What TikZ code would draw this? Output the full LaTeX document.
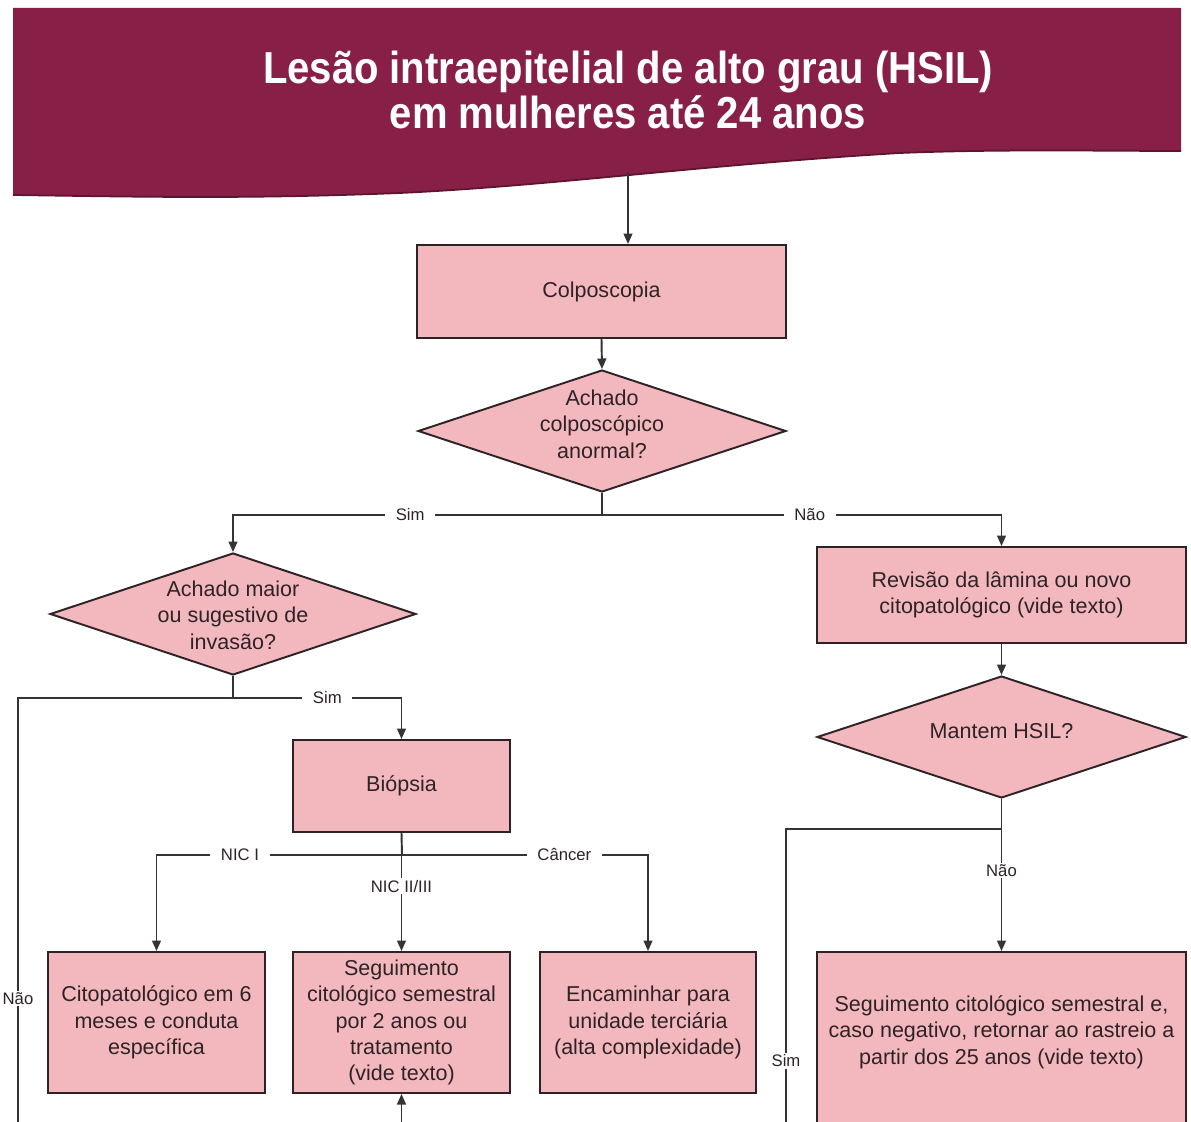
\documentclass[tikz,border=0pt]{standalone}
\usepackage{graphicx}
\usepackage{fontspec}
\setmainfont{Liberation Sans}
\usetikzlibrary{shapes.geometric,arrows.meta}
\definecolor{wine}{RGB}{136,31,70}
\definecolor{wineedge}{RGB}{95,20,45}
\definecolor{rose}{RGB}{243,184,190}
\definecolor{ink}{RGB}{45,35,38}
\definecolor{wirecol}{RGB}{55,50,52}

\begin{document}
\begin{tikzpicture}[x=0.02cm,y=-0.02cm,
  box/.style={draw=ink, line width=1.1pt, fill=rose, inner sep=0pt, align=center,
              text=ink, font=\fontsize{12.25}{15}\selectfont},
  dia/.style={box, diamond},
  txt/.style={align=center, text=ink, inner sep=0pt, font=\fontsize{12.25}{15}\selectfont},
  wire/.style={draw=wirecol, line width=1.1pt},
  arr/.style={wire, -{Triangle[length=6pt,width=5pt]}},
  lbl/.style={fill=white, inner xsep=6pt, inner ysep=1pt, text=ink,
              font=\fontsize{9.5}{11}\selectfont},
]
\useasboundingbox (0,0) rectangle (1191,1122);
\fill[white] (0,0) rectangle (1191,1122);

% title banner with wavy lower edge
\fill[wine] (13,8) -- (1181,8) -- (1181,151)
  .. controls (1100,151) and (1000,149) .. (900,153)
  .. controls (700,165) and (550,186) .. (400,193)
  .. controls (250,199) and (150,197) .. (13,195) -- cycle;
\draw[wineedge, line width=1pt] (1181,151)
  .. controls (1100,151) and (1000,149) .. (900,153)
  .. controls (700,165) and (550,186) .. (400,193)
  .. controls (250,199) and (150,197) .. (13,195);
\node[text=white, align=center, inner sep=0pt,
      font=\fontsize{25.5}{23.5}\selectfont\bfseries] (title) at (628,90)
  {\scalebox{0.894}[1]{Lesão intraepitelial de alto grau (HSIL)}\\
   \scalebox{0.894}[1]{em mulheres até 24 anos}};
\coordinate (hb) at (628,172);

% boxes
\node[box, minimum width=7.38cm, minimum height=1.86cm] (colp) at (601.5,291.5) {Colposcopia};
\node[dia, minimum width=7.36cm, minimum height=2.44cm] (d1) at (602,431) {};
\node[txt] (d1t) at (602,424) {Achado\\colposcópico\\anormal?};

\node[dia, minimum width=7.32cm, minimum height=2.44cm] (d2) at (233,614) {};
\node[txt] (d2t) at (233,615) {Achado maior\\ou sugestivo de\\invasão?};

\node[box, minimum width=7.38cm, minimum height=1.92cm] (rev) at (1001.5,595)
  {Revisão da lâmina ou novo\\citopatológico (vide texto)};
\node[dia, minimum width=7.38cm, minimum height=2.44cm] (d3) at (1001.5,737) {};
\node[txt] (d3t) at (1001.5,731) {Mantem HSIL?};

\node[box, minimum width=4.34cm, minimum height=1.84cm] (bio) at (401.5,786) {Biópsia};

\node[box, minimum width=4.34cm, minimum height=2.82cm] (ca) at (156.5,1022.5)
  {Citopatológico em 6\\meses e conduta\\específica};
\node[box, minimum width=4.34cm, minimum height=2.82cm] (cb) at (401.5,1022.5)
  {Seguimento\\citológico semestral\\por 2 anos ou\\tratamento\\(vide texto)};
\node[box, minimum width=4.32cm, minimum height=2.82cm] (cc) at (648,1022.5)
  {Encaminhar para\\unidade terciária\\(alta complexidade)};
\node[box, minimum width=7.38cm, minimum height=3.92cm] (cd) at (1001.5,1050) {};
\node[txt] (cdt) at (1001.5,1032)
  {Seguimento citológico semestral e,\\caso negativo, retornar ao rastreio a\\partir dos 25 anos (vide texto)};

% junctions and free ends
\coordinate (j1) at (602,515);
\coordinate (j2) at (233,698);
\coordinate (j3) at (402,855);
\coordinate (j4) at (1001.5,829);
\coordinate (endl) at (18,1135);
\coordinate (endr) at (786,1135);
\coordinate (endb) at (401.5,1135);

% connectors
\draw[arr] (hb) -- (hb |- colp.north);
\draw[arr] (colp.south) -- (d1.north);
\draw[wire] (d1.south) -- (j1);
\draw[arr] (j1) -| node[lbl, pos=0.26] {Sim} (d2.north);
\draw[arr] (j1) -| node[lbl, pos=0.26] {Não} (rev.north);

\draw[wire] (d2.south) -- (j2);
\draw[arr] (j2) -| node[lbl, pos=0.28] {Sim} (bio.north);
\draw[wire] (j2) -| node[lbl, pos=0.844] {Não} (endl);

\draw[wire] (bio.south) -- (j3);
\draw[arr] (j3) -| node[lbl, pos=0.33] {NIC I} (ca.north);
\draw[arr] (j3) -| node[lbl, pos=0.33] {Câncer} (cc.north);
\draw[arr] (bio.south) -- node[lbl, pos=0.45] {NIC II/III} (cb.north);
\draw[arr] (endb) -- (cb.south);

\draw[arr] (rev.south) -- (d3.north);
\draw[wire] (d3.south) -- (j4);
\draw[wire] (j4) -| node[lbl, pos=0.879] {Sim} (endr);
\draw[arr] (j4) -- node[lbl, pos=0.34] {Não} (cd.north);
\end{tikzpicture}
\end{document}
